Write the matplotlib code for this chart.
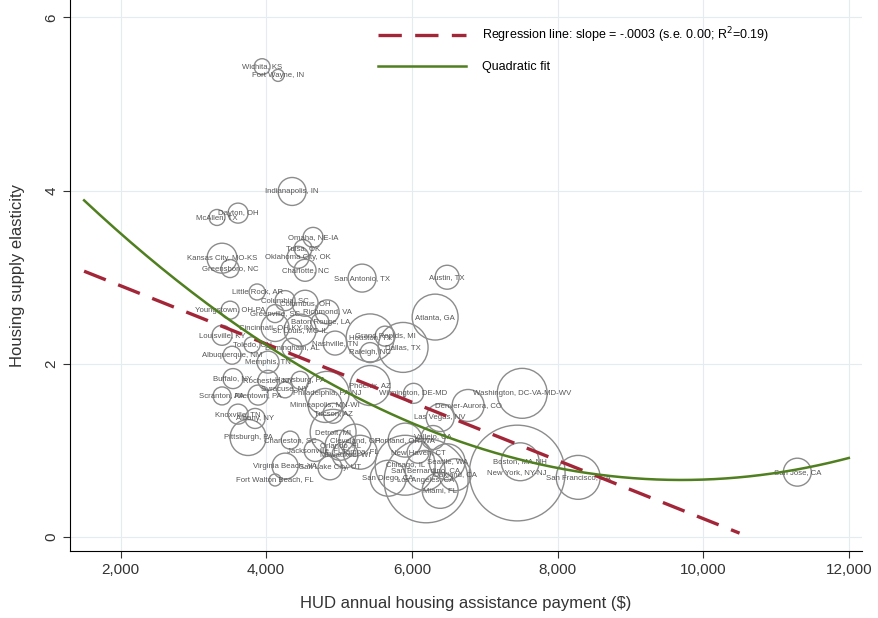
import numpy as np
import matplotlib.pyplot as plt

plt.rcParams['font.family'] = ['Liberation Sans', 'DejaVu Sans']

# metro areas: HUD payment ($), supply elasticity, population weight (millions)
cities = ["Wichita, KS", "Fort Wayne, IN", "Indianapolis, IN", "McAllen, TX", "Dayton, OH",
          "Omaha, NE-IA", "Tulsa, OK", "Oklahoma City, OK", "Kansas City, MO-KS", "Greensboro, NC",
          "Charlotte, NC", "San Antonio, TX", "Austin, TX", "Atlanta, GA", "Houston, TX",
          "Grand Rapids, MI", "Dallas, TX", "Raleigh, NC", "Nashville, TN", "Richmond, VA",
          "Youngstown, OH-PA", "Little Rock, AR", "Columbia, SC", "Columbus, OH", "Greenville, SC",
          "Cincinnati, OH-KY-IN", "St. Louis, MO-IL", "Louisville, KY", "Toledo, OH", "Birmingham, AL",
          "Albuquerque, NM", "Memphis, TN", "Baton Rouge, LA", "Buffalo, NY", "Rochester, NY",
          "Harrisburg, PA", "Syracuse, NY", "Scranton, PA", "Allentown, PA", "Knoxville, TN",
          "Albany, NY", "Pittsburgh, PA", "Tucson, AZ", "Detroit, MI", "Charleston, SC",
          "Jacksonville, FL", "Orlando, FL", "Tampa, FL", "Virginia Beach, VA", "Salt Lake City, UT",
          "Fort Walton Beach, FL", "Cleveland, OH", "Milwaukee, WI", "Minneapolis, MN-WI", "Philadelphia, PA-NJ",
          "Phoenix, AZ", "Wilmington, DE-MD", "Washington, DC-VA-MD-WV", "Denver-Aurora, CO", "Las Vegas, NV",
          "Vallejo, CA", "Portland, OR-WA", "New Haven, CT", "Seattle, WA", "Chicago, IL",
          "San Diego, CA", "San Bernardino, CA", "Miami, FL", "Oakland, CA", "Boston, MA-NH",
          "New York, NY-NJ", "San Francisco, CA", "San Jose, CA", "Los Angeles, CA"]
payment = [3944, 4163, 4356, 3325, 3614,
           4644, 4507, 4438, 3394, 3504,
           4534, 5317, 6485, 6320, 5427,
           5633, 5880, 5427, 4946, 4837,
           3504, 3875, 4260, 4534, 4122,
           4122, 4466, 3394, 3806, 4356,
           3532, 4026, 4740, 3545, 4026,
           4466, 4260, 3394, 3889, 3614,
           3848, 3751, 4919, 4919, 4329,
           4672, 5015, 5290, 4260, 4877,
           4122, 5221, 5083, 4810, 4837,
           5427, 6024, 7515, 6773, 6389,
           6292, 5908, 6086, 6484, 5908,
           5675, 6182, 6389, 6595, 7488,
           7447, 8284, 11293, 6196]
elasticity = [5.43, 5.33, 3.99, 3.69, 3.74,
              3.46, 3.33, 3.23, 3.22, 3.10,
              3.08, 2.99, 3.00, 2.54, 2.30,
              2.32, 2.19, 2.13, 2.24, 2.60,
              2.62, 2.83, 2.73, 2.70, 2.58,
              2.42, 2.39, 2.33, 2.22, 2.18,
              2.10, 2.02, 2.48, 1.83, 1.81,
              1.81, 1.70, 1.63, 1.64, 1.42,
              1.37, 1.15, 1.43, 1.21, 1.12,
              1.00, 1.06, 0.98, 0.82, 0.80,
              0.66, 1.12, 0.95, 1.52, 1.66,
              1.75, 1.66, 1.66, 1.52, 1.38,
              1.15, 1.12, 0.98, 0.87, 0.83,
              0.68, 0.77, 0.54, 0.72, 0.87,
              0.74, 0.69, 0.75, 0.65]
population = [0.53, 0.30, 1.62, 0.53, 0.83,
              0.83, 0.67, 1.00, 1.86, 0.67,
              1.00, 1.62, 1.19, 4.37, 4.76,
              0.83, 5.17, 0.83, 1.19, 1.19,
              0.67, 0.53, 0.83, 1.40, 0.67,
              1.62, 2.12, 0.83, 0.53, 0.83,
              0.67, 1.00, 0.67, 0.83, 0.83,
              0.67, 0.53, 0.67, 0.83, 0.83,
              0.83, 2.68, 0.83, 4.37, 0.67,
              1.00, 1.86, 2.39, 1.40, 1.19,
              0.30, 2.12, 1.40, 2.39, 4.00,
              3.31, 0.83, 5.17, 2.12, 1.62,
              1.19, 2.39, 1.00, 2.68, 7.44,
              2.68, 3.31, 2.68, 2.12, 2.98,
              19.0, 4.00, 1.62, 14.6]

# fitted lines
reg_intercept, reg_slope = 3.574, -0.000336
quad_vertex_x, quad_vertex_y, quad_curv = 9700, 0.66, 4.8e-8

fig = plt.figure(figsize=(8.79, 6.18), dpi=100)
ax = fig.add_axes([0.0796, 0.1084, 0.9014, 0.8916])

ax.scatter(payment, elasticity, s=np.array(population) * 250, facecolors="none",
           edgecolors="#8c8c8c", linewidths=1.0, zorder=2)
for name, x, y in zip(cities, payment, elasticity):
    ax.text(x, y, name, fontsize=5.6, color="#555555", ha="center", va="center", zorder=3)

xr = np.linspace(1500, 10500, 50)
ax.plot(xr, reg_intercept + reg_slope * xr, color="#a32638", lw=2.4, dashes=(7, 4),
        label="Regression line: slope = -.0003 (s.e. 0.00; R$^2$=0.19)", zorder=4)
xq = np.linspace(1500, 12000, 200)
ax.plot(xq, quad_vertex_y + quad_curv * (xq - quad_vertex_x) ** 2, color="#4f7f1f", lw=1.8,
        label="Quadratic fit", zorder=4)

ax.set_xlim(1306, 12185)
ax.set_ylim(-0.16, 6.2)
ax.set_xticks([2000, 4000, 6000, 8000, 10000, 12000])
ax.set_xticklabels(["2,000", "4,000", "6,000", "8,000", "10,000", "12,000"])
ax.set_yticks([0, 2, 4, 6])
for t in ax.get_yticklabels():
    t.set_rotation(90)
    t.set_va("center")
ax.tick_params(labelsize=11, colors="#333333", length=5)
ax.grid(color="#e3ecef", lw=0.8, zorder=0)
ax.set_axisbelow(True)
for s in ["top", "right"]:
    ax.spines[s].set_visible(False)
ax.set_xlabel("HUD annual housing assistance payment ($)", fontsize=12, color="#333333", labelpad=14)
ax.set_ylabel("Housing supply elasticity", fontsize=12, color="#333333", labelpad=14)

ax.legend(loc="upper left", bbox_to_anchor=(0.375, 0.975), frameon=False, fontsize=9,
          handlelength=7.0, handletextpad=1.3, labelspacing=1.3)

fig.savefig("out.png", dpi=100)
